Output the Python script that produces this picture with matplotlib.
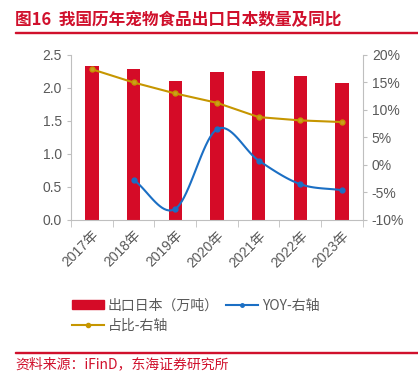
import matplotlib
matplotlib.use("Agg")
import matplotlib.pyplot as plt
import numpy as np
from matplotlib.lines import Line2D

plt.rcParams['font.family'] = ['Liberation Sans', 'Noto Sans CJK SC', 'DejaVu Sans']
plt.rcParams['axes.unicode_minus'] = False

years = ['2017年', '2018年', '2019年', '2020年', '2021年', '2022年', '2023年']
export_japan = [2.34, 2.28, 2.10, 2.24, 2.26, 2.18, 2.08]      # 万吨
yoy = [None, -2.7, -8.0, 6.5, 0.8, -3.5, -4.6]                 # %
share = [17.4, 15.0, 13.0, 11.3, 8.7, 8.1, 7.8]                # %

RED = '#D50B27'
BLUE = '#1B6FC4'
GOLD = '#C69600'
GREY = '#595959'
SPINE = '#BFBFBF'
CJK = ['Noto Sans CJK SC', 'DejaVu Sans']


def smooth(xs, ys, n=20):
    # catmull-rom just for drawing the smoothed yoy curve
    xs = np.asarray(xs, float)
    ys = np.asarray(ys, float)
    px = np.concatenate([[2 * xs[0] - xs[1]], xs, [2 * xs[-1] - xs[-2]]])
    py = np.concatenate([[2 * ys[0] - ys[1]], ys, [2 * ys[-1] - ys[-2]]])
    ox, oy = [], []
    t = np.linspace(0, 1, n)
    for i in range(1, len(px) - 2):
        for p, o in ((px, ox), (py, oy)):
            p0, p1, p2, p3 = p[i - 1], p[i], p[i + 1], p[i + 2]
            o.extend(0.5 * (2 * p1 + (-p0 + p2) * t
                            + (2 * p0 - 5 * p1 + 4 * p2 - p3) * t ** 2
                            + (-p0 + 3 * p1 - 3 * p2 + p3) * t ** 3))
    return ox, oy


fig = plt.figure(figsize=(4.18, 3.74), dpi=100)

# header / footer rules
fig.patches.append(plt.Rectangle((0.036, 0.911), 0.964, 0.0045, color='#D0102C',
                                 transform=fig.transFigure, figure=fig))
fig.patches.append(plt.Rectangle((0.036, 0.055), 0.964, 0.003, color='#D0102C',
                                 transform=fig.transFigure, figure=fig))

ax = fig.add_axes([0.170, 0.412, 0.698, 0.441])
ax2 = ax.twinx()

x = np.arange(len(years))
ax.bar(x, export_japan, width=0.32, color=RED, zorder=2)
ax.set_ylim(0, 2.5)
ax.set_yticks(np.arange(0, 2.51, 0.5))
ax.set_yticklabels([f'{v:.1f}' for v in np.arange(0, 2.51, 0.5)])
ax.set_xlim(-0.5, len(years) - 0.5)
ax.set_xticks(x)
ax.set_xticklabels(years, rotation=45, ha='right', rotation_mode='anchor')
ax.set_xticks(np.arange(-0.5, len(years)), minor=True)
ax.tick_params(axis='x', which='major', length=0, pad=6, labelsize=10, labelcolor=GREY)
ax.tick_params(axis='x', which='minor', length=5, color=SPINE)
ax.tick_params(axis='y', length=3, color=SPINE, labelsize=10, labelcolor=GREY)

yx = [i for i, v in enumerate(yoy) if v is not None]
yv = [v for v in yoy if v is not None]
sx, sy = smooth(yx, yv)
ax2.plot(sx, sy, color=BLUE, lw=1.5, zorder=3)
ax2.plot(yx, yv, 'o', color=BLUE, ms=3.5, zorder=4)
ax2.plot(x, share, color=GOLD, lw=1.5, marker='o', ms=3.5,
         markerfacecolor='#C8A020', zorder=3)
ax2.set_ylim(-10, 20)
ax2.set_yticks(range(-10, 21, 5))
ax2.set_yticklabels([f'{v}%' for v in range(-10, 21, 5)])
ax2.tick_params(axis='y', length=3, color=SPINE, labelsize=10, labelcolor=GREY)

for a in (ax, ax2):
    a.spines['top'].set_visible(False)
    for s in ('left', 'right', 'bottom'):
        a.spines[s].set_color(SPINE)
ax.spines['right'].set_visible(False)
ax2.spines['left'].set_visible(False)
ax2.spines['bottom'].set_visible(False)

handles = [plt.Rectangle((0, 0), 1, 1, color=RED),
           Line2D([], [], color=GOLD, lw=1.5, marker='o', ms=3),
           Line2D([], [], color=BLUE, lw=1.5, marker='o', ms=2.5)]
labels = ['出口日本（万吨）', '占比-右轴', 'YOY-右轴']
leg = fig.legend(handles, labels, ncol=2, loc='upper left',
                 bbox_to_anchor=(0.142, 0.235), frameon=False,
                 prop={'family': CJK, 'size': 10}, handlelength=2.3, handleheight=0.6,
                 columnspacing=0.5, handletextpad=0.3, labelspacing=0.45)
for t in leg.get_texts():
    t.set_color(GREY)

fig.text(0.036, 0.945, '图16  我国历年宠物食品出口日本数量及同比', color='#D0102C',
         fontsize=12, fontweight='bold', va='center', family=CJK)
fig.text(0.036, 0.025, '资料来源：iFinD，东海证券研究所', color='#D0102C',
         fontsize=10, va='center', family=CJK)

fig.savefig('out.png', dpi=100)
